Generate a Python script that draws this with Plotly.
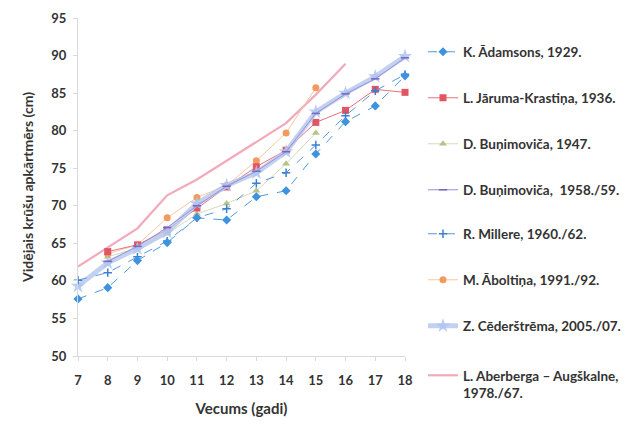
import plotly.graph_objects as go

ages = [7, 8, 9, 10, 11, 12, 13, 14, 15, 16, 17, 18]

adamsons_ages = [7, 8, 9, 10, 11, 12, 13, 14, 15, 16, 17, 18]
adamsons = [57.6, 59.1, 62.7, 65.1, 68.4, 68.1, 71.2, 72.0, 76.9, 81.2, 83.3, 87.3]

jaruma_ages = [8, 9, 10, 11, 12, 13, 14, 15, 16, 17, 18]
jaruma = [63.9, 64.8, 66.8, 69.7, 72.5, 75.2, 77.4, 81.1, 82.7, 85.5, 85.1]

bun47_ages = [8, 9, 10, 11, 12, 13, 14, 15]
bun47 = [63.2, 64.4, 66.3, 68.9, 70.3, 72.0, 75.6, 79.7]

bun58_ages = [8, 9, 10, 11, 12, 13, 14, 15, 16, 17, 18]
bun58 = [62.6, 64.6, 67.1, 70.0, 72.6, 74.6, 77.2, 82.3, 84.9, 86.9, 89.7]

millere_ages = [7, 8, 9, 10, 11, 12, 13, 14, 15, 16, 17, 18]
millere = [60.1, 61.1, 63.2, 65.3, 68.4, 69.6, 73.0, 74.4, 78.1, 82.0, 85.3, 87.5]

aboltina_ages = [8, 9, 10, 11, 12, 13, 14, 15]
aboltina = [63.6, 64.8, 68.4, 71.1, 72.7, 76.0, 79.7, 85.7]

cederstrema_ages = [7, 8, 9, 10, 11, 12, 13, 14, 15, 16, 17, 18]
cederstrema = [59.3, 62.4, 64.3, 66.5, 70.3, 72.7, 74.4, 77.2, 82.5, 85.0, 87.2, 89.9]

aberberga_ages = [7, 8, 9, 10, 11, 12, 13, 14, 15, 16]
aberberga = [61.9, 64.4, 67.0, 71.4, 73.5, 76.0, 78.5, 81.0, 84.8, 88.9]

y_ticks = [50, 55, 60, 65, 70, 75, 80, 85, 90, 95]

names = [
    "K. Ādamsons, 1929.",
    "L. Jāruma-Krastiņa, 1936.",
    "D. Buņimoviča, 1947.",
    "D. Buņimoviča,  1958./59.",
    "R. Millere, 1960./62.",
    "M. Āboltiņa, 1991./92.",
    "Z. Cēderštrēma, 2005./07.",
    "L. Aberberga – Augškalne,<br>1978./67.",
]

FONT = "Lato"
TXT = "#333333"
W, H = 637, 435

fig = go.Figure()

fig.add_trace(go.Scatter(
    x=aberberga_ages, y=aberberga, name=names[7], mode="lines",
    line=dict(color="#f2aabb", width=2.2), legend="legend8"))

fig.add_trace(go.Scatter(
    x=bun47_ages, y=bun47, name=names[2], mode="lines+markers",
    line=dict(color="#d3dbbd", width=1),
    marker=dict(symbol="triangle-up", size=7, color="#b3c487"),
    legend="legend3"))

fig.add_trace(go.Scatter(
    x=aboltina_ages, y=aboltina, name=names[5], mode="lines+markers",
    line=dict(color="#f8c6a6", width=1),
    marker=dict(symbol="circle", size=7, color="#f39a5e"),
    legend="legend6"))

fig.add_trace(go.Scatter(
    x=jaruma_ages, y=jaruma, name=names[1], mode="lines+markers",
    line=dict(color="#e8707c", width=1),
    marker=dict(symbol="square", size=7, color="#e25564"),
    legend="legend2"))

fig.add_trace(go.Scatter(
    x=cederstrema_ages, y=cederstrema, name=names[6], mode="lines+markers",
    line=dict(color="rgba(180,198,238,0.8)", width=5),
    marker=dict(symbol="star", size=11, color="rgba(175,196,238,0.85)"),
    legend="legend7"))

fig.add_trace(go.Scatter(
    x=bun58_ages, y=bun58, name=names[3], mode="lines+markers",
    line=dict(color="#9a90d6", width=1),
    marker=dict(symbol="line-ew", size=6, line=dict(color="#7366c4", width=1.5)),
    legend="legend4"))

fig.add_trace(go.Scatter(
    x=millere_ages, y=millere, name=names[4], mode="lines+markers",
    line=dict(color="#5a98da", width=1, dash="dash"),
    marker=dict(symbol="cross-thin", size=6, line=dict(color="#3b7fd0", width=1.5)),
    legend="legend5"))

fig.add_trace(go.Scatter(
    x=adamsons_ages, y=adamsons, name=names[0], mode="lines+markers",
    line=dict(color="#4a9be2", width=1, dash="dash"),
    marker=dict(symbol="diamond", size=7, color="#3d93e0"),
    legend="legend"))


def leg(ypx, anchor="middle"):
    return dict(
        xref="container", yref="container",
        x=423 / W, xanchor="left",
        y=1 - ypx / H, yanchor=anchor, valign="top",
        font=dict(family=FONT, size=13.5, color=TXT, weight="bold"),
        bgcolor="rgba(0,0,0,0)", itemwidth=30,
    )


entry_y = [52, 98, 144, 190, 234, 280, 326]
layout_legends = {}
for i, yp in enumerate(entry_y):
    key = "legend" if i == 0 else f"legend{i + 1}"
    layout_legends[key] = leg(yp)
layout_legends["legend8"] = leg(360, "top")

fig.update_layout(
    width=W, height=H,
    paper_bgcolor="white", plot_bgcolor="white",
    margin=dict(l=78, r=232, t=18, b=79, autoexpand=False),
    font=dict(family=FONT, size=12, color=TXT, weight="bold"),
    showlegend=True,
    **layout_legends,
    xaxis=dict(
        range=[7, 18], tickmode="array", tickvals=ages,
        showgrid=False, zeroline=False,
        showline=True, linecolor="#d9d9d9", linewidth=1,
        ticks="outside", ticklen=4, tickcolor="#d9d9d9",
        ticklabelstandoff=8, automargin=False,
        tickfont=dict(family=FONT, size=13, color=TXT, weight="bold"),
        title=dict(text="Vecums (gadi)", standoff=16,
                   font=dict(family=FONT, size=15, color=TXT, weight="bold")),
    ),
    yaxis=dict(
        range=[50, 95], tickmode="array", tickvals=y_ticks,
        showgrid=False, zeroline=False,
        showline=True, linecolor="#d9d9d9", linewidth=1,
        ticks="outside", ticklen=4, tickcolor="#d9d9d9",
        ticklabelstandoff=4, automargin=False,
        tickfont=dict(family=FONT, size=13, color=TXT, weight="bold"),
        title=dict(text="Vidējais krūšu apkārtmērs (cm)", standoff=14,
                   font=dict(family=FONT, size=14, color=TXT, weight="bold")),
    ),
)
fig.update_traces(cliponaxis=False)

fig.write_html("out.html")
